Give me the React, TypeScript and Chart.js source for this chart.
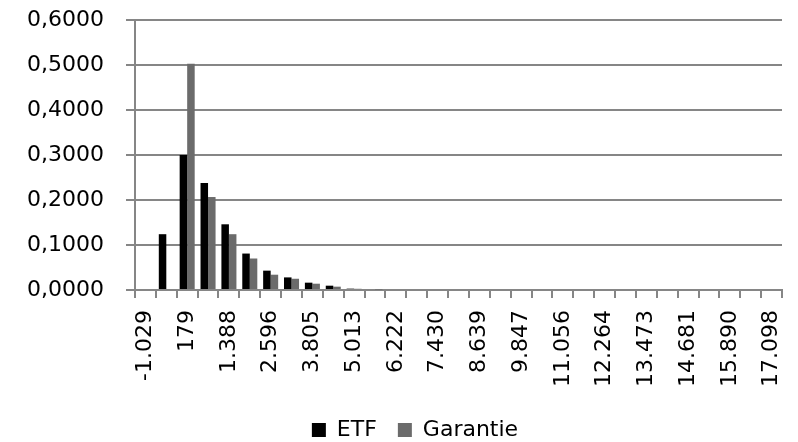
import React, { useEffect, useRef } from "react";
import { Chart, registerables } from "chart.js";

Chart.register(...registerables);

const categories: string[] = [
  "-1.029", "-425", "179", "784", "1.388", "1.992", "2.596", "3.201", "3.805", "4.409",
  "5.013", "5.618", "6.222", "6.826", "7.430", "8.035", "8.639", "9.243", "9.847", "10.451",
  "11.056", "11.660", "12.264", "12.868", "13.473", "14.077", "14.681", "15.285", "15.890", "16.494",
  "17.098",
];

const etfValues: number[] = [
  0, 0.124, 0.3, 0.238, 0.146, 0.081, 0.043, 0.028, 0.0163, 0.0096,
  0.003, 0.0022, 0, 0, 0, 0, 0, 0, 0, 0,
  0, 0, 0, 0, 0, 0, 0, 0, 0, 0, 0,
];

const garantieValues: number[] = [
  0, 0, 0.503, 0.2066, 0.124, 0.07, 0.034, 0.025, 0.014, 0.0074,
  0.0027, 0.001, 0, 0, 0, 0, 0, 0, 0, 0,
  0, 0, 0, 0, 0, 0, 0, 0, 0, 0, 0,
];

const yTicks: number[] = [0, 0.1, 0.2, 0.3, 0.4, 0.5, 0.6];

const FONT = "'DejaVu Sans', Verdana, sans-serif";
const GRID = "#868686";

const legendPlace = {
  id: "legendPlace",
  afterLayout(chart: any) {
    const l = chart.legend;
    if (!l) return;
    const h = l.height;
    l.left = 48;
    l.top = 398;
    l.bottom = 398 + h;
  },
};

export default function App() {
  const ref = useRef<HTMLCanvasElement | null>(null);

  useEffect(() => {
    document.body.style.margin = "0";
    if (!ref.current) return;
    const chart = new Chart(ref.current, {
      type: "bar",
      data: {
        labels: categories,
        datasets: [
          {
            label: "ETF",
            data: etfValues,
            backgroundColor: "#000000",
            borderWidth: 0,
            categoryPercentage: 0.72,
            barPercentage: 1,
          },
          {
            label: "Garantie",
            data: garantieValues,
            backgroundColor: "#6b6b6b",
            borderWidth: 0,
            categoryPercentage: 0.72,
            barPercentage: 1,
          },
        ],
      },
      plugins: [legendPlace],
      options: {
        responsive: false,
        animation: false,
        layout: { padding: { top: 20, right: 16, left: 0, bottom: 0 } },
        plugins: {
          legend: {
            position: "bottom",
            labels: {
              color: "#000",
              font: { family: FONT, size: 22 },
              boxWidth: 14,
              boxHeight: 14,
              padding: 21,
            },
          },
          tooltip: { enabled: false },
        },
        scales: {
          x: {
            offset: true,
            grid: {
              offset: true,
              drawOnChartArea: false,
              drawTicks: true,
              tickLength: 8,
              color: GRID,
              lineWidth: 2,
            },
            border: { color: GRID, width: 2 },
            ticks: {
              autoSkip: false,
              minRotation: 90,
              maxRotation: 90,
              padding: 12,
              color: "#000",
              font: { family: FONT, size: 22 },
              callback: (_v: any, i: number) => (i % 2 === 0 ? categories[i] : ""),
            },
            afterFit: (s: any) => {
              s.height = 99;
              s.paddingLeft = 0;
              s.paddingRight = 0;
            },
          },
          y: {
            min: 0,
            max: 0.6,
            afterBuildTicks: (s: any) => {
              s.ticks = yTicks.map((v) => ({ value: v }));
            },
            grid: {
              color: GRID,
              lineWidth: 2,
              tickLength: 9,
            },
            border: { color: GRID, width: 2 },
            ticks: {
              color: "#000",
              padding: 22,
              font: { family: FONT, size: 22 },
              callback: (v: any) => Number(v).toFixed(4).replace(".", ","),
            },
            afterFit: (s: any) => {
              s.width = 135;
              s.paddingTop = 0;
              s.paddingBottom = 0;
            },
          },
        },
      },
    });
    return () => chart.destroy();
  }, []);

  return (
    <div style={{ width: 798, height: 442 }}>
      <canvas ref={ref} width={798} height={442} style={{ display: "block" }} />
    </div>
  );
}
